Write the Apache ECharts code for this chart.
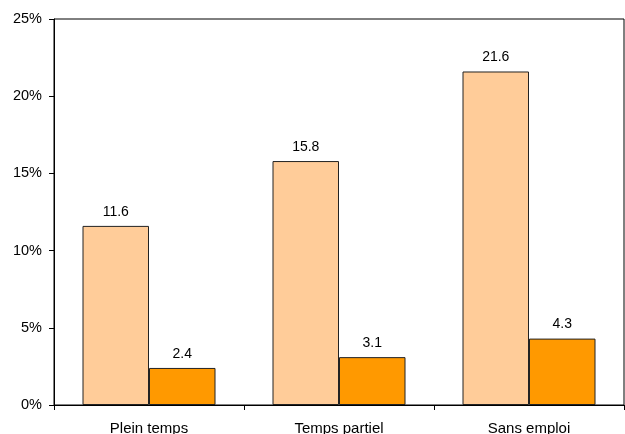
<!DOCTYPE html>
<html><head><meta charset="utf-8">
<script src="https://cdn.jsdelivr.net/npm/echarts@6/dist/echarts.min.js"></script>
<style>html,body{margin:0;padding:0;background:#fff}#c{width:625px;height:434px}</style>
</head><body><div id="c"></div>
<script>
var categories = ['Plein temps', 'Temps partiel', 'Sans emploi'];
var seriesA = [11.6, 15.8, 21.6];
var seriesB = [2.4, 3.1, 4.3];
var yTicks = [0, 5, 10, 15, 20, 25];

var chart = echarts.init(document.getElementById('c'), null, {renderer: 'canvas'});
var font = 'Liberation Sans, Arial, sans-serif';
function mk(data, color) {
  return {
    type: 'bar', data: data, barGap: '0%', barCategoryGap: '30%',
    itemStyle: {color: color, borderColor: '#222', borderWidth: 1},
    label: {show: true, position: 'top', distance: 7, color: '#000', fontFamily: font, fontSize: 14,
      formatter: function(p){ return p.value.toFixed(1); }},
    animation: false
  };
}
chart.setOption({
  animation: false,
  grid: {left: 54, right: 1, top: 19, bottom: 29, show: true, borderColor: '#000', borderWidth: 1,
    backgroundColor: 'transparent', containLabel: false, outerBoundsMode: 'none'},
  xAxis: {type: 'category', data: categories,
    axisLine: {lineStyle: {color: '#000', width: 1}},
    axisTick: {show: true, length: 5, lineStyle: {color: '#000'}},
    axisLabel: {color: '#000', fontFamily: font, fontSize: 15, margin: 16}},
  yAxis: {type: 'value', min: yTicks[0], max: yTicks[yTicks.length-1], interval: 5,
    axisLine: {show: true, lineStyle: {color: '#000', width: 1}},
    axisTick: {show: true, length: 5, lineStyle: {color: '#000'}},
    splitLine: {show: false},
    axisLabel: {color: '#000', fontFamily: font, fontSize: 14.5, margin: 12, formatter: '{value}%'}},
  series: [mk(seriesA, '#FFCC99'), mk(seriesB, '#FF9900')]
});
</script></body></html>
